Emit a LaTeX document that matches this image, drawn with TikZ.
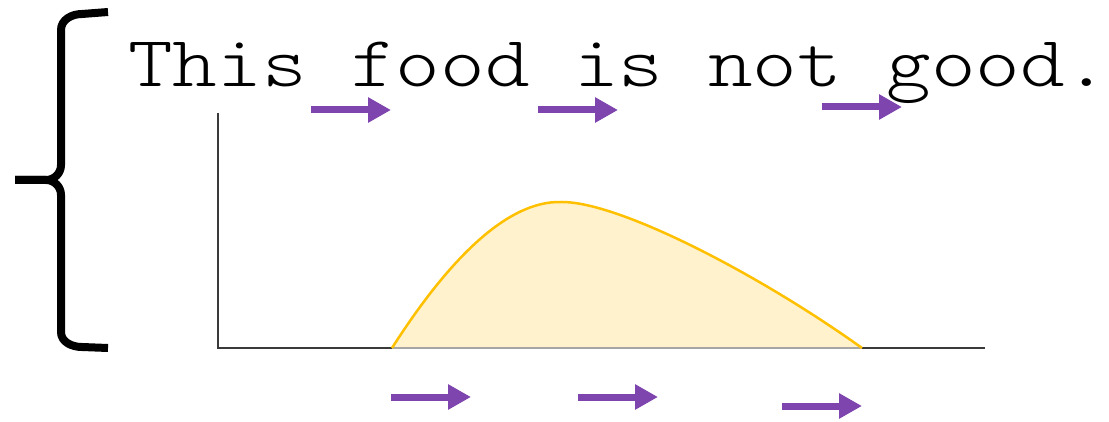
\documentclass[tikz,border=0pt]{standalone}
\usetikzlibrary{arrows.meta}
\definecolor{arrowpurple}{HTML}{7F45AF}
\definecolor{curvegold}{HTML}{FFC000}
\definecolor{curvefill}{HTML}{FFF2CC}
\definecolor{axisgrey}{HTML}{3A3A3A}
\tikzset{
  flowarrow/.style={draw=arrowpurple, line width=7pt, -{Triangle[length=23pt,width=24pt,fill=arrowpurple]}},
  bracestroke/.style={draw=black, line width=8pt, line join=round},
  axisline/.style={draw=axisgrey, line width=1.5pt},
  sentence/.style={inner sep=0pt, anchor=base west, font=\ttfamily\fontseries{l}\fontsize{72}{80}\selectfont}
}
\begin{document}
\begin{tikzpicture}[x=1pt,y=-1pt]
\useasboundingbox (0,0) rectangle (1109,422);
% brace
\draw[bracestroke] (108,12) -- (82,14) to[out=180,in=90] (61,30) -- (61,165)
  to[out=-90,in=0] (46,180) -- (15,180);
\draw[bracestroke] (15,180) -- (46,180) to[out=0,in=90] (61,195) -- (61,332)
  to[out=-90,in=180] (82,347) -- (108,348);
% sentence
\node[sentence] (txt) at (128,87) {\scalebox{1.18}[1]{This food is not good.}};
% axes
\coordinate (origin) at (218,348);
\coordinate (ytop) at (218,113);
\coordinate (xend) at (985,348);
\draw[axisline] (ytop) -- (origin) -- (xend);
% curve
\coordinate (cstart) at (392,348);
\coordinate (cpeak) at (562,202);
\coordinate (cend) at (862,348);
\fill[curvefill] (cstart) .. controls (445,265) and (505,200) .. (cpeak)
  .. controls (620,202) and (760,275) .. (cend) -- cycle;
\draw[draw=gray!70, line width=1.5pt] (cstart) -- (cend);
\draw[draw=curvegold, line width=2.5pt] (cstart) .. controls (445,265) and (505,200) .. (cpeak)
  .. controls (620,202) and (760,275) .. (cend);
% arrows top
\coordinate (t1s) at (311,110); \coordinate (t1e) at (391,110);
\coordinate (t2s) at (538,110); \coordinate (t2e) at (618,110);
\coordinate (t3s) at (822,107); \coordinate (t3e) at (902,107);
\draw[flowarrow] (t1s) -- (t1e);
\draw[flowarrow] (t2s) -- (t2e);
\draw[flowarrow] (t3s) -- (t3e);
% arrows bottom
\coordinate (b1s) at (391,397); \coordinate (b1e) at (471,397);
\coordinate (b2s) at (578,397); \coordinate (b2e) at (658,397);
\coordinate (b3s) at (782,406); \coordinate (b3e) at (862,406);
\draw[flowarrow] (b1s) -- (b1e);
\draw[flowarrow] (b2s) -- (b2e);
\draw[flowarrow] (b3s) -- (b3e);
\end{tikzpicture}
\end{document}
